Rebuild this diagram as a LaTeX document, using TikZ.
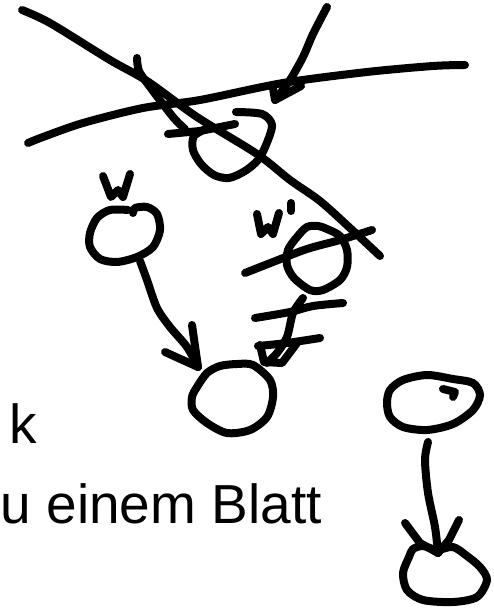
\documentclass[tikz,border=0pt]{standalone}
\usepackage{fontspec}
\setmainfont{Liberation Sans}
\begin{document}
\begin{tikzpicture}[x=1pt,y=-1pt,
  pen/.style={line width=8pt,line cap=round,line join=round,black},
  lbl/.style={anchor=base west,inner sep=0pt,font=\fontsize{55}{60}\selectfont}]
\useasboundingbox (0,0) rectangle (494,609);
% long crossing strokes
\draw[pen] plot[smooth,tension=0.5] coordinates {(22,10) (50,23) (110,60) (147,81) (197,117) (257,154) (290,180) (320,201) (350,228) (380,256)};
\draw[pen] plot[smooth,tension=0.5] coordinates {(28,143) (43,137) (83,123) (143,108) (200,100) (283,83) (367,72) (433,66) (465,65)};
\draw[pen] plot[smooth,tension=0.5] coordinates {(327,7) (313,34) (303,57) (290,80) (275,100)};
\draw[pen] (273,88) -- (275,100) -- (301,86);
\draw[pen] plot[smooth,tension=0.5] coordinates {(137,58) (139,71) (150,87) (173,117) (185,129)};
\draw[pen] (168,134) -- (200,131) -- (235,124);
% top node (crossed out)
\draw[pen] plot[smooth,tension=0.5] coordinates {(236,112) (262,114) (272,125) (266,145) (258,160) (245,171) (229,178) (214,175) (201,164) (193,150) (194,136) (208,128)};
% w label and node
\draw[pen] (103,176) -- (111,197) -- (118,190) -- (123,197) -- (130,174);
\draw[pen] plot[smooth,tension=0.5] coordinates {(128,210) (110,210) (97,218) (90,233) (90,247) (100,259) (117,262) (137,257) (153,247) (160,230) (157,214) (147,207) (135,208) (133,213)};
% arrow w -> bottom node
\draw[pen] plot[smooth,tension=0.5] coordinates {(140,261) (147,280) (157,308) (170,327) (187,347) (198,367)};
\draw[pen] (192,325) -- (198,367) -- (165,352);
% bottom centre node
\draw[pen] plot[smooth cycle,tension=0.5] coordinates {(220,366) (237,364) (253,365) (270,380) (273,397) (267,417) (250,430) (227,433) (207,423) (193,410) (192,397) (197,387) (207,373)};
% w' label and node
\draw[pen] (257,214) -- (261,234) -- (268,227) -- (273,234) -- (279,213);
\draw[pen] (291,203) -- (291,211);
\draw[pen] plot[smooth cycle,tension=0.5] coordinates {(307,227) (318,226) (327,229) (340,236) (347,250) (347,267) (340,280) (323,290) (310,290) (294,278) (287,265) (288,250) (297,237)};
\draw[pen] plot[smooth,tension=0.5] coordinates {(245,273) (273,262) (307,249) (340,240) (372,230)};
% crossed arrow w' -> bottom node
\draw[pen] plot[smooth,tension=0.5] coordinates {(255,318) (290,312) (313,306) (343,303)};
\draw[pen] plot[smooth,tension=0.5] coordinates {(303,298) (293,313) (287,337) (277,353) (267,363)};
\draw[pen] (260,345) -- (264,362) -- (282,363) -- (297,343);
\draw[pen] plot[smooth,tension=0.5] coordinates {(258,346) (287,343) (320,338)};
% right nodes
\draw[pen] plot[smooth cycle,tension=0.5] coordinates {(403,380) (427,375) (453,379) (473,383) (480,395) (473,410) (453,424) (427,430) (403,427) (390,417) (387,403) (390,390)};
\draw[pen] (443,389) -- (455,392) -- (453,397);
\draw[pen] plot[smooth,tension=0.5] coordinates {(428,442) (425,460) (428,493) (435,527) (438,553)};
\draw[pen] (405,523) -- (420,543) -- (438,553);
\draw[pen] (459,520) -- (449,540) -- (438,553);
\draw[pen] plot[smooth cycle,tension=0.5] coordinates {(413,549) (423,546) (437,550) (453,547) (467,556) (480,567) (487,580) (477,597) (453,602) (423,600) (407,590) (403,573) (409,557)};
% texts
\node[lbl] (k) at (9,443) {k};
\node[lbl] (blatt) at (0.5,523) {u einem Blatt};
\end{tikzpicture}
\end{document}
